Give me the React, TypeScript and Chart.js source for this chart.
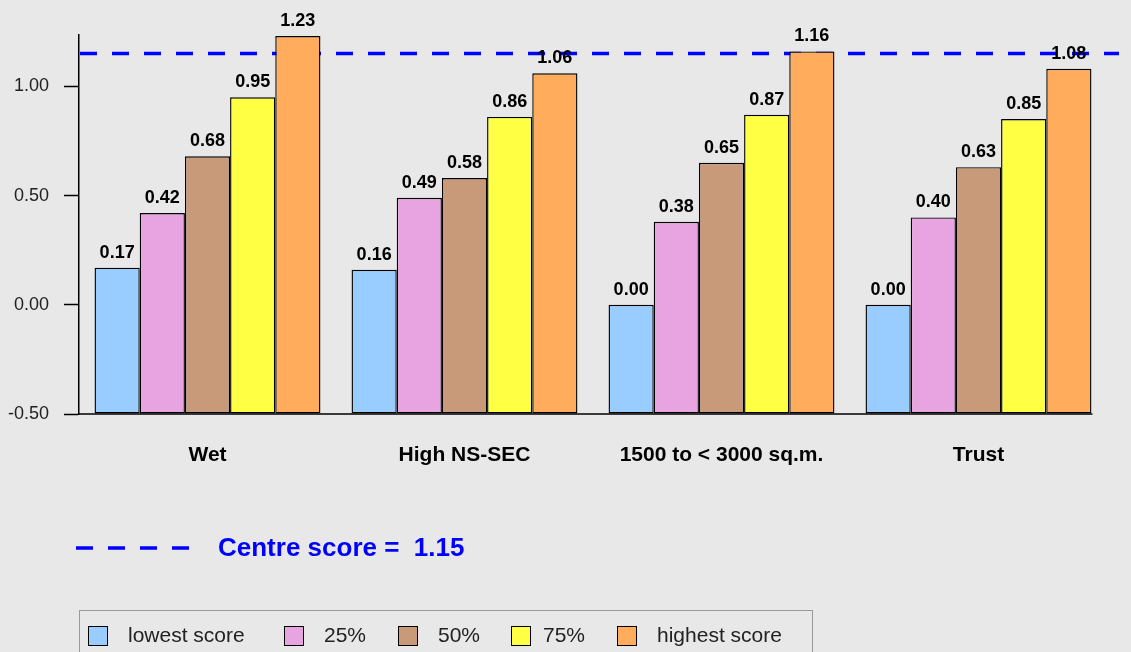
import React, { useEffect, useRef } from "react";
import { Chart, registerables } from "chart.js";

Chart.register(...registerables);

const categories = ["Wet", "High NS-SEC", "1500 to < 3000 sq.m.", "Trust"];
const seriesNames = ["lowest score", "25%", "50%", "75%", "highest score"];
const lowestScore = [0.17, 0.16, 0.0, 0.0];
const pct25 = [0.42, 0.49, 0.38, 0.4];
const pct50 = [0.68, 0.58, 0.65, 0.63];
const pct75 = [0.95, 0.86, 0.87, 0.85];
const highestScore = [1.23, 1.06, 1.16, 1.08];
const centreScore = 1.15;
const yTicks = [-0.5, 0, 0.5, 1.0];
const colors = ["#99ccff", "#e8a4e0", "#c89a7a", "#ffff44", "#ffad5c"];

const FONT = "'Liberation Sans', Arial, Helvetica, sans-serif";
const BG = "#e8e8e8";

export default function App() {
  const ref = useRef<HTMLCanvasElement | null>(null);

  useEffect(() => {
    const canvas = ref.current;
    if (!canvas) return;
    const series = [lowestScore, pct25, pct50, pct75, highestScore];

    const overlay = {
      id: "overlay",
      beforeDatasetsDraw(chart: any) {
        const ctx = chart.ctx;
        const y = chart.scales.y.getPixelForValue(centreScore);
        ctx.save();
        ctx.strokeStyle = "#0000ff";
        ctx.lineWidth = 3.5;
        ctx.setLineDash([17, 15]);
        ctx.beginPath();
        ctx.moveTo(chart.chartArea.left + 1, y);
        ctx.lineTo(1119, y);
        ctx.stroke();
        // legend sample for centre score
        ctx.beginPath();
        ctx.moveTo(76, 548);
        ctx.lineTo(190, 548);
        ctx.stroke();
        ctx.restore();

        // bottom axis line ending at the last bar
        const lastMeta = chart.getDatasetMeta(chart.data.datasets.length - 1);
        const lastBar = lastMeta.data[lastMeta.data.length - 1];
        const right = lastBar.x + lastBar.width / 2 + 1;
        const yb = chart.chartArea.bottom;
        ctx.save();
        ctx.strokeStyle = "#000";
        ctx.lineWidth = 1.5;
        ctx.beginPath();
        ctx.moveTo(chart.chartArea.left, yb);
        ctx.lineTo(right, yb);
        ctx.stroke();
        ctx.restore();
      },
      afterDatasetsDraw(chart: any) {
        const ctx = chart.ctx;
        ctx.save();
        ctx.fillStyle = "#000";
        ctx.font = `bold 18px ${FONT}`;
        ctx.textAlign = "center";
        ctx.textBaseline = "alphabetic";
        chart.data.datasets.forEach((ds: any, i: number) => {
          const meta = chart.getDatasetMeta(i);
          meta.data.forEach((bar: any, j: number) => {
            const v = ds.data[j] as number;
            ctx.fillText(v.toFixed(2), bar.x, bar.y - 10);
          });
        });
        ctx.restore();
      },
    };

    const chart = new Chart(canvas, {
      type: "bar",
      data: {
        labels: categories,
        datasets: series.map((d, i) => ({
          label: seriesNames[i],
          data: d,
          base: -0.5,
          backgroundColor: colors[i],
          borderColor: "#000",
          borderWidth: 1.4,
          borderSkipped: false,
          categoryPercentage: 0.879,
          barPercentage: 1.0,
        })),
      },
      options: {
        responsive: false,
        animation: false,
        events: [],
        layout: { padding: { top: 35, right: 24, left: 0, bottom: 0 } },
        plugins: {
          legend: { display: false },
          tooltip: { enabled: false },
        },
        scales: {
          x: {
            grid: { display: false, drawTicks: false },
            border: { display: false },
            ticks: {
              color: "#000",
              font: { family: FONT, size: 21, weight: "bold" },
              padding: 29,
              maxRotation: 0,
              autoSkip: false,
            },
            afterFit(scale: any) {
              scale.height = 238;
            },
          },
          y: {
            min: -0.5,
            max: 1.235,
            afterBuildTicks(scale: any) {
              scale.ticks = yTicks.map((v) => ({ value: v }));
            },
            grid: {
              drawOnChartArea: false,
              drawTicks: true,
              tickLength: 15,
              tickColor: "#000",
              tickWidth: 1.5,
            },
            border: { display: true, color: "#000", width: 1.5 },
            ticks: {
              color: "#222",
              font: { family: FONT, size: 18 },
              padding: 15,
              callback: (v: any) => Number(v).toFixed(2),
            },
            afterFit(scale: any) {
              scale.width = 79;
            },
          },
        },
      },
      plugins: [overlay],
    } as any);

    return () => chart.destroy();
  }, []);

  const legendItem = (i: number, sq: number, tx: number) => (
    <React.Fragment key={i}>
      <div
        style={{
          position: "absolute",
          left: sq - 79,
          top: 15,
          width: 18,
          height: 18,
          background: colors[i],
          border: "1px solid #000",
        }}
      />
      <div
        style={{
          position: "absolute",
          left: tx - 79,
          top: 11,
          fontFamily: FONT,
          fontSize: 21,
          color: "#222",
          lineHeight: "26px",
          whiteSpace: "nowrap",
        }}
      >
        {seriesNames[i]}
      </div>
    </React.Fragment>
  );

  const sqX = [87, 283, 397, 510, 616];
  const txX = [127, 323, 437, 542, 656];

  return (
    <div
      style={{
        position: "fixed",
        left: 0,
        top: 0,
        width: 1131,
        height: 652,
        background: BG,
        overflow: "hidden",
      }}
    >
      <canvas ref={ref} width={1131} height={652} style={{ position: "absolute", left: 0, top: 0 }} />
      <div
        style={{
          position: "absolute",
          left: 218,
          top: 531,
          fontFamily: FONT,
          fontWeight: "bold",
          fontSize: 26,
          lineHeight: "32px",
          color: "#0000ff",
          whiteSpace: "pre",
        }}
      >
        {"Centre score =  " + centreScore.toFixed(2)}
      </div>
      <div
        style={{
          position: "absolute",
          left: 79,
          top: 610,
          width: 734,
          height: 60,
          border: "1px solid #999",
          boxSizing: "border-box",
        }}
      >
        {seriesNames.map((_, i) => legendItem(i, sqX[i], txX[i]))}
      </div>
    </div>
  );
}
